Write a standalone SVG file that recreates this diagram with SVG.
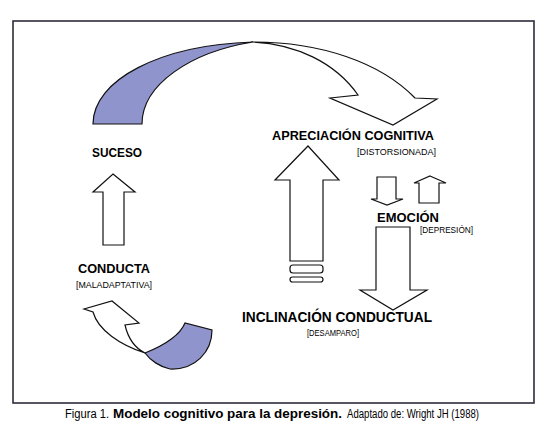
<svg xmlns="http://www.w3.org/2000/svg" width="550" height="437" viewBox="0 0 550 437">
<style>
.bg{fill:#fff}
.frame{fill:none;stroke:#2e2e3e;stroke-width:1.6}
.arr{fill:#fff;stroke:#111;stroke-width:1.2;stroke-linejoin:miter}
.sh{fill:#9094cc;stroke:#111;stroke-width:1.2}
.t{font-family:"Liberation Sans",Arial,sans-serif;font-weight:bold;fill:#000}
.s{font-family:"Liberation Sans",Arial,sans-serif;font-size:8.5px;fill:#000}
.cap{font-family:"Liberation Sans",Arial,sans-serif;font-size:12.5px;fill:#000}
</style>
<rect class="bg" x="0" y="0" width="550" height="437"/>
<rect class="frame" x="13" y="21" width="521" height="382"/>

<g id="connectors">
  <!-- top curved ribbon arrow -->
  <path class="sh" d="M93,124 C93,80 160,45 253,42 C190,52 142,85 142,124 Z"/>
  <path class="arr" d="M253,42 C320,42 380,62 415,98 L437,99 L393,125 L330,98 L358,95 C335,62 295,44 253,42 Z"/>
  <!-- suceso up arrow -->
  <path class="arr" d="M113,174 L135,192 L124,192 L124,245 L103,245 L103,192 L93,192 Z"/>
  <!-- bottom-left curved ribbon arrow -->
  <path class="sh" d="M145,353 C165,345 180,335 185,323 L212,330 C212,352 195,370 170,369 C160,367 150,360 145,353 Z"/>
  <path class="arr" d="M145,353 C120,345 98,330 93,312 L84,309 L112,301 L139,323 L125,325 C128,338 135,348 145,353 Z"/>
  <!-- big up arrow -->
  <path class="arr" d="M308,146 L339,180 L323,180 L323,261 L290,261 L290,180 L275,180 Z"/>
  <rect class="arr" x="290" y="265" width="33" height="8" rx="3"/>
  <rect class="arr" x="290" y="277" width="33" height="5" rx="2.5"/>
  <!-- small down arrow -->
  <path class="arr" d="M377,177 L396,177 L396,199 L403,199 L387,205 L371,199 L377,199 Z"/>
  <!-- small up arrow -->
  <path class="arr" d="M430,176 L446,183 L439,183 L439,203 L419,203 L419,183 L414,183 Z"/>
  <!-- big down arrow -->
  <path class="arr" d="M376,227 L410,227 L410,290 L427,290 L393,310 L360,290 L376,290 Z"/>
</g>

<g id="suceso">
  <text class="t" x="92" y="157" font-size="12" textLength="50" lengthAdjust="spacingAndGlyphs">SUCESO</text>
</g>
<g id="conducta">
  <text class="t" x="78" y="273" font-size="12" textLength="72" lengthAdjust="spacingAndGlyphs">CONDUCTA</text>
  <text class="s" x="76" y="288" textLength="76" lengthAdjust="spacingAndGlyphs">[MALADAPTATIVA]</text>
</g>
<g id="apreciacion">
  <text class="t" x="272" y="140" font-size="12" textLength="162" lengthAdjust="spacingAndGlyphs">APRECIACIÓN COGNITIVA</text>
  <text class="s" x="357" y="155" textLength="79" lengthAdjust="spacingAndGlyphs">[DISTORSIONADA]</text>
</g>
<g id="emocion">
  <text class="t" x="377" y="222" font-size="12" textLength="62" lengthAdjust="spacingAndGlyphs">EMOCIÓN</text>
  <text class="s" x="420" y="233" textLength="53" lengthAdjust="spacingAndGlyphs">[DEPRESIÓN]</text>
</g>
<g id="inclinacion">
  <text class="t" x="242" y="322" font-size="14" textLength="190" lengthAdjust="spacingAndGlyphs">INCLINACIÓN CONDUCTUAL</text>
  <text class="s" x="307" y="336" textLength="52" lengthAdjust="spacingAndGlyphs">[DESAMPARO]</text>
</g>

<g id="caption">
  <text class="cap" y="418"><tspan x="65" textLength="44" lengthAdjust="spacingAndGlyphs">Figura 1.</tspan><tspan x="113" font-weight="bold" textLength="229" lengthAdjust="spacingAndGlyphs">Modelo cognitivo para la depresión.</tspan><tspan x="347" textLength="132" lengthAdjust="spacingAndGlyphs">Adaptado de: Wright JH (1988)</tspan></text>
</g>
</svg>
